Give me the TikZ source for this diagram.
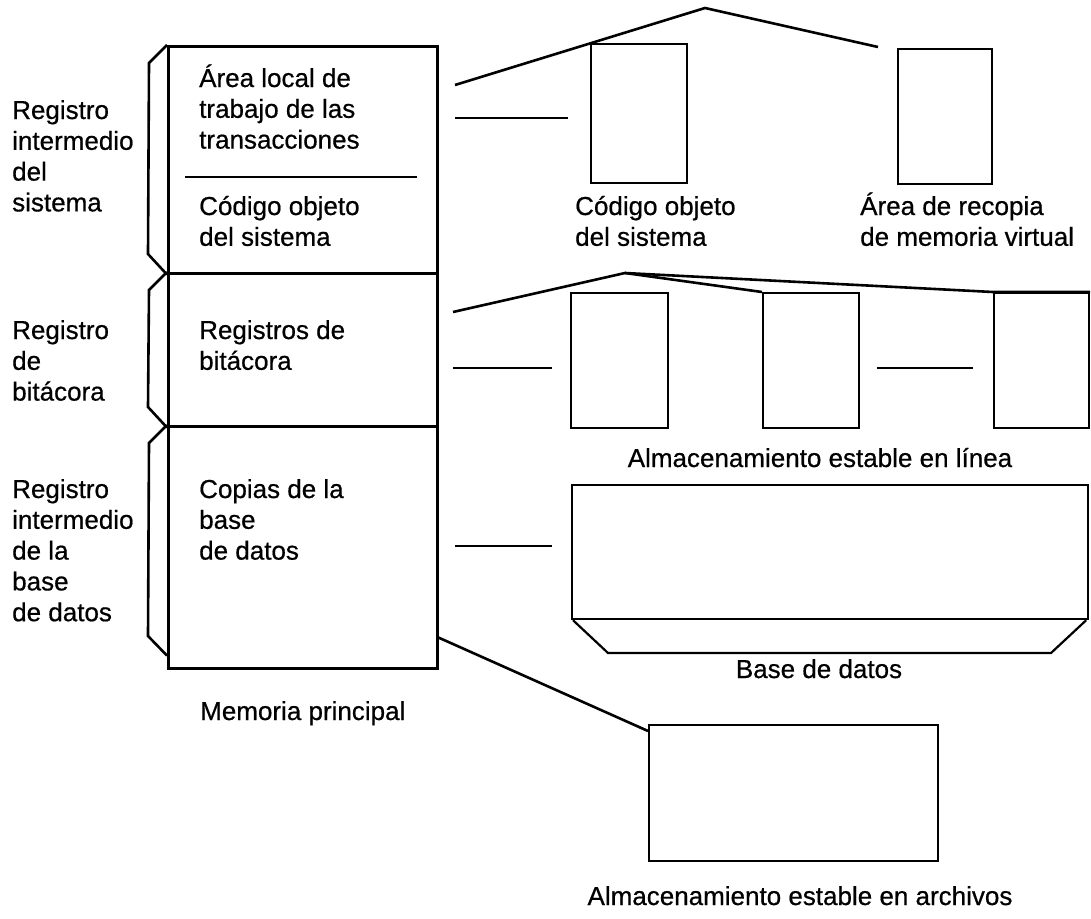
\documentclass[tikz,border=0pt]{standalone}
\usepackage{fontspec}
\setmainfont{Liberation Sans}[BoldFont={Liberation Sans},BoldFeatures={FakeBold=0.6}]
% left-aligned block of lines whose baseline is that of its first line
\newcommand\stack[1]{\vtop{\baselineskip=30.8pt\lineskiplimit=-100pt\halign{##\hfil\cr#1\crcr}}}
\begin{document}
\begin{tikzpicture}[x=1pt,y=-1pt,
  txt/.style={inner sep=0pt, font=\fontsize{26}{30.8}\selectfont\bfseries},
  lbl/.style={txt, anchor=base west},
  ctr/.style={txt, anchor=base},
  heavy/.style={line width=2.6pt, line join=miter},
  memseg/.style={draw, line width=2.6pt, inner sep=0pt, anchor=north west, minimum width=269pt},
  box/.style={draw, line width=2.2pt, inner sep=0pt, anchor=north west},
  link/.style={line width=2pt},
  hair/.style={line width=1.2pt}]
\useasboundingbox (0,0) rectangle (1091,918);

% main memory column
\node[memseg, minimum height=227pt] (mem1) at (167,45) {};
\node[memseg, minimum height=153pt] (mem2) at (167,272) {};
\node[memseg, minimum height=242pt] (mem3) at (167,425) {};
\draw[hair] (185,177) -- (417,177);

% brackets on the left side
\draw[heavy] (mem1.north west) -- ++(-18,18) -- (148,254) -- (mem1.south west);
\draw[heavy] (mem2.north west) -- ++(-18,18) -- (148,407) -- (mem2.south west);
\draw[heavy] (mem3.north west) -- ++(-18,18) -- (148,636) -- ([yshift=14pt]mem3.south west);

% storage boxes
\node[box, minimum width=96pt, minimum height=139pt] (objA) at (590,43) {};
\node[box, minimum width=94pt, minimum height=135pt] (copyB) at (897,48) {};
\node[box, minimum width=97pt, minimum height=135pt] (log1) at (570,292) {};
\node[box, minimum width=96pt, minimum height=135pt] (log2) at (762,292) {};
\node[box, minimum width=95pt, minimum height=135pt] (log3) at (993,292) {};
\node[box, minimum width=516pt, minimum height=134pt] (db) at (571,484) {};
\draw[line width=2.2pt, line join=miter] ([xshift=2pt]db.south west) -- (608,653) -- (1051,653) -- ([xshift=-3pt]db.south east);
\node[box, minimum width=289pt, minimum height=136pt] (arch) at (648,724) {};

% fan-out lines
\coordinate (topL) at (455,85);
\coordinate (topA) at (705,8);
\coordinate (topR) at (878,47);
\draw[heavy] (topL) -- (topA) -- (topR);
\coordinate (midL) at (453,312);
\coordinate (midA) at (625,273);
\draw[heavy] (midL) -- (midA) -- (log2.north west);
\draw[heavy] (midA) -- (log3.north west) -- (log3.north east);
\draw[heavy] ([yshift=32pt]mem3.south east) -- ([yshift=-7pt]arch.north west);

% short dashes between columns
\coordinate (d1a) at (455,118); \coordinate (d1b) at (568,118);
\coordinate (d2a) at (453,368); \coordinate (d2b) at (552,368);
\coordinate (d3a) at (877,368); \coordinate (d3b) at (973,368);
\coordinate (d4a) at (455,546); \coordinate (d4b) at (552,546);
\draw[link] (d1a) -- (d1b);
\draw[link] (d2a) -- (d2b);
\draw[link] (d3a) -- (d3b);
\draw[link] (d4a) -- (d4b);

% labels on the left
\node[lbl] (lsys) at (12,119) {\stack{Registro\cr intermedio\cr del\cr sistema}};
\node[lbl] (llog) at (12,339) {\stack{Registro\cr de\cr bitácora}};
\node[lbl] (lbd) at (12,498) {\stack{Registro\cr intermedio\cr de la\cr base\cr de datos}};

% labels inside main memory
\node[lbl] (tarea) at (199,87) {\stack{Área local de\cr trabajo de las\cr transacciones}};
\node[lbl] (tcode) at (199,215) {\stack{Código objeto\cr del sistema}};
\node[lbl] (tlog) at (199,339) {\stack{Registros de\cr bitácora}};
\node[lbl] (tcop) at (199,498) {\stack{Copias de la\cr base\cr de datos}};
\node[lbl] (tmem) at (200,720) {Memoria principal};

% labels of the storage
\node[lbl] (tobj) at (575,215) {\stack{Código objeto\cr del sistema}};
\node[lbl] (tvirt) at (860,215) {\stack{Área de recopia\cr de memoria virtual}};
\node[ctr] (tline) at (820,467) {Almacenamiento estable en línea};
\node[ctr] (tdb) at (819,678) {Base de datos};
\node[ctr] (tarch) at (800,905) {Almacenamiento estable en archivos};
\end{tikzpicture}
\end{document}
